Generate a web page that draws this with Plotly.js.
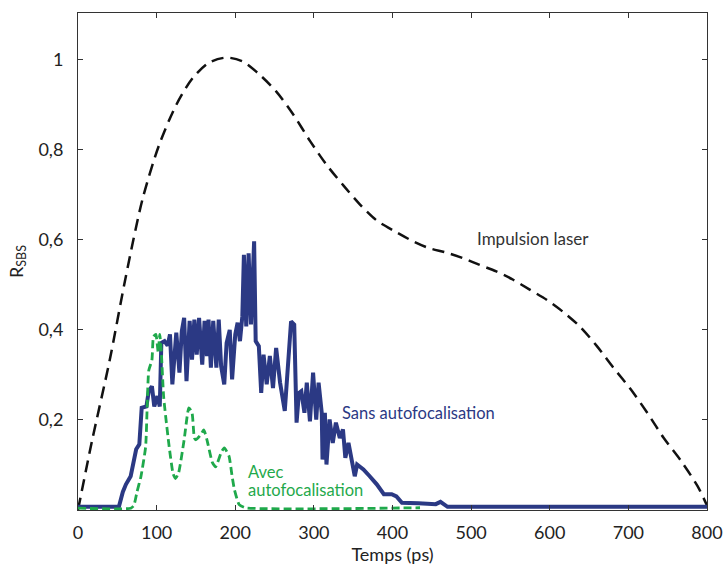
<!DOCTYPE html>
<html>
<head>
<meta charset="utf-8">
<script src="https://cdn.plot.ly/plotly-3.0.1.min.js"></script>
<style>html,body{margin:0;padding:0;background:#fff;}#chart{width:723px;height:565px;}</style>
</head>
<body>
<div id="chart"></div>
<script>
// Impulsion laser (black dashed)
const laserT = [0,18,40,61,82,103,125,146,167,189,210,231,252,274,295,316,338,359,380,403,425,446,468,489,510,532,553,574,596,617,638,660,681,703,724,745,767,788,800];
const laserV = [0,0.155,0.33,0.52,0.69,0.81,0.90,0.96,0.994,1.005,0.996,0.967,0.93,0.878,0.82,0.767,0.72,0.678,0.643,0.619,0.598,0.582,0.572,0.56,0.545,0.53,0.512,0.49,0.467,0.44,0.408,0.364,0.316,0.268,0.216,0.16,0.109,0.053,0.01];

// Sans autofocalisation (blue solid)
const sansT = [0,52,57,61,67,74,78,81,87,90,94,97,101,104,106,110,114,117,120,125,129,132,135,138,142,145,148,151,154,158,161,164,166,169,172,176,179,182,186,189,193,196,200,203,206,209,211,214,217,220,224,226,230,233,236,240,244,248,252,257,263,267,271,275,278,281,284,288,291,295,299,303,306,310,311,314,316,320,324,328,333,337,340,344,348,352,355,363,371,380,389,399,405,412,433,455,461,470,800];
const sansV = [0.007,0.007,0.04,0.057,0.075,0.135,0.146,0.227,0.23,0.264,0.275,0.23,0.253,0.23,0.371,0.375,0.365,0.39,0.279,0.394,0.305,0.397,0.427,0.286,0.42,0.334,0.423,0.345,0.427,0.323,0.42,0.342,0.423,0.316,0.42,0.316,0.423,0.32,0.279,0.371,0.40,0.29,0.39,0.416,0.375,0.43,0.567,0.408,0.57,0.412,0.597,0.375,0.364,0.26,0.345,0.279,0.342,0.271,0.36,0.283,0.22,0.32,0.419,0.412,0.194,0.26,0.264,0.216,0.283,0.197,0.305,0.201,0.283,0.216,0.112,0.216,0.101,0.201,0.149,0.194,0.16,0.179,0.116,0.149,0.112,0.075,0.101,0.09,0.075,0.057,0.035,0.035,0.03,0.016,0.015,0.013,0.018,0.007,0.007];

// Avec autofocalisation (green dashed)
const avecT = [0,67,71,75,80,86,88,90,94,96,99,102,104,106,109,116,121,124,128,135,141,145,148,150,156,160,164,171,175,182,186,192,196,199,205,213,435];
const avecV = [0.004,0.004,0.01,0.04,0.074,0.14,0.23,0.31,0.333,0.385,0.39,0.35,0.39,0.35,0.25,0.14,0.08,0.07,0.083,0.156,0.227,0.216,0.16,0.156,0.167,0.178,0.156,0.105,0.096,0.127,0.138,0.12,0.075,0.045,0.012,0.005,0.005];

const xTicks = [0,100,200,300,400,500,600,700,800];
const yTicks = [0.2,0.4,0.6,0.8,1];
const yTickText = ["0,2","0,4","0,6","0,8","1"];

const FONT = "Lato, 'Open Sans', sans-serif";
const blue = "#2b3984";
const green = "#1fa94b";

const traces = [
  {x: laserT, y: laserV, mode: "lines", line: {color: "#111", width: 2.5, dash: "12px,7px", shape: "spline", smoothing: 0.8}, hoverinfo: "skip"},
  {x: sansT, y: sansV, mode: "lines", line: {color: blue, width: 4}, hoverinfo: "skip"},
  {x: avecT, y: avecV, mode: "lines", line: {color: green, width: 2.8, dash: "8px,4px", shape: "spline", smoothing: 0.5}, hoverinfo: "skip"}
];

const layout = {
  width: 723, height: 565,
  margin: {l: 78, r: 16, t: 13, b: 55},
  paper_bgcolor: "#fff", plot_bgcolor: "#fff",
  showlegend: false,
  font: {family: FONT, color: "#222", size: 18},
  xaxis: {
    range: [0, 800], tickvals: xTicks, ticktext: xTicks.map(String),
    ticks: "inside", ticklen: 5, tickwidth: 1, tickcolor: "#333",
    showline: true, linecolor: "#333", linewidth: 1, mirror: "ticks",
    showgrid: false, zeroline: false,
    tickfont: {family: FONT, size: 18, color: "#222"},
    ticklabelstandoff: 6,
    title: {text: "Temps (ps)", font: {family: FONT, size: 18, color: "#222"}, standoff: 0}
  },
  yaxis: {
    range: [0, 1.104], tickvals: yTicks, ticktext: yTickText,
    ticks: "inside", ticklen: 5, tickwidth: 1, tickcolor: "#333",
    showline: true, linecolor: "#333", linewidth: 1, mirror: "ticks",
    showgrid: false, zeroline: false,
    tickfont: {family: FONT, size: 18, color: "#222"},
    ticklabelstandoff: 10,
    title: {text: "R<sub>SBS</sub>", font: {family: FONT, size: 18, color: "#222"}, standoff: 10}
  },
  annotations: [
    {x: 579, y: 0.604, xref: "x", yref: "y", text: "Impulsion laser", showarrow: false, font: {family: FONT, size: 17, color: "#333"}, xanchor: "center", yanchor: "middle"},
    {x: 333, y: 0.216, xref: "x", yref: "y", text: "Sans autofocalisation", showarrow: false, font: {family: FONT, size: 16.5, color: blue}, xanchor: "left", yanchor: "middle"},
    {x: 214, y: 0.084, xref: "x", yref: "y", text: "Avec", showarrow: false, font: {family: FONT, size: 16.5, color: green}, xanchor: "left", yanchor: "middle"},
    {x: 214, y: 0.045, xref: "x", yref: "y", text: "autofocalisation", showarrow: false, font: {family: FONT, size: 16.5, color: green}, xanchor: "left", yanchor: "middle"}
  ]
};

Plotly.newPlot("chart", traces, layout, {staticPlot: true, displayModeBar: false});
</script>
</body>
</html>
